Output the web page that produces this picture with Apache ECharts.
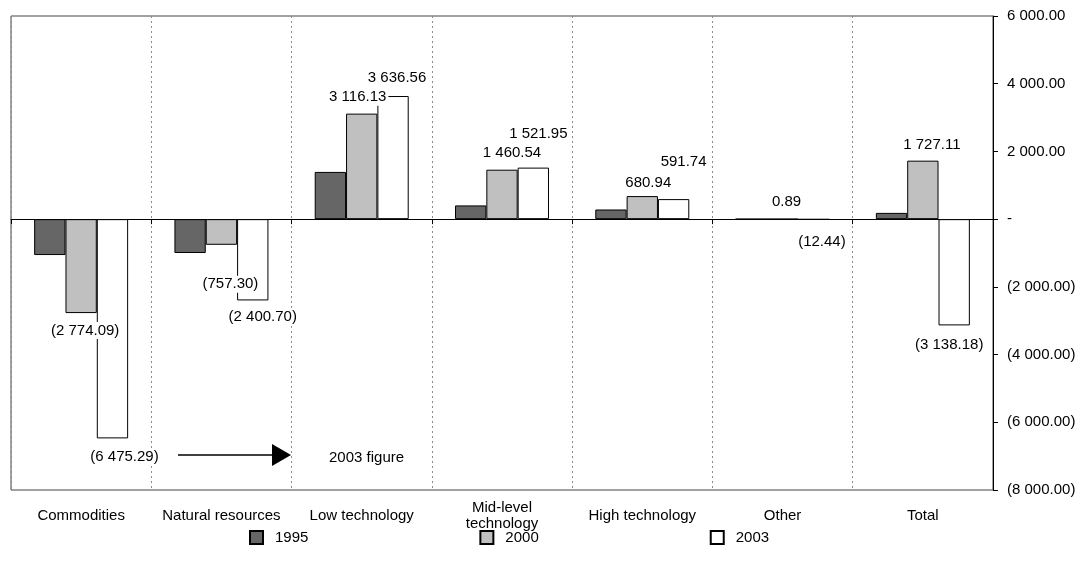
<!DOCTYPE html>
<html>
<head>
<meta charset="utf-8">
<script src="https://cdn.jsdelivr.net/npm/echarts@6/dist/echarts.min.js"></script>
<style>
  html, body { margin: 0; padding: 0; background: #fff; }
  #chart { width: 1081px; height: 573px; }
</style>
</head>
<body>
<div id="chart"></div>
<script>
// Trade balance by technology content, three years
const categories = ['Commodities', 'Natural resources', 'Low technology', 'Mid-level\ntechnology', 'High technology', 'Other', 'Total'];
const years = ['1995', '2000', '2003'];
const values1995 = [-1060, -1000, 1395, 405, 285, 1, 185];
const values2000 = [-2774.09, -757.30, 3116.13, 1460.54, 680.94, 0.89, 1727.11];
const values2003 = [-6475.29, -2400.70, 3636.56, 1521.95, 591.74, -12.44, -3138.18];
const yTicks = { min: -8000, max: 6000, step: 2000 };

const FONT = '"Liberation Sans", Arial, Helvetica, sans-serif';

// Number format: space thousands separator, two decimals, negatives in brackets, zero as a dash
function fmt(v) {
  if (v === 0) return '-';
  const parts = Math.abs(v).toFixed(2).split('.');
  const t = parts[0].replace(/\B(?=(\d{3})+(?!\d))/g, ' ') + '.' + parts[1];
  return v < 0 ? '(' + t + ')' : t;
}

// Hand placement of the value labels (x, y nudges in px)
const labelNudge2000 = [[4, 4], [9, 26], [-4, -3], [10, -3], [6, 0], [4, -3], [9, -2]];
const labelNudge2003 = [[12, 5], [10, 3], [4, -5], [5, -20], [10, -24], [8, 9], [-5, 6]];

function labelled(values, nudges) {
  return values.map((v, i) => ({
    value: v,
    label: {
      show: true,
      position: v < 0 ? 'bottom' : 'top',
      offset: nudges[i],
      formatter: p => fmt(p.value)
    }
  }));
}

const colors = ['#666666', '#c0c0c0', '#ffffff'];

const chart = echarts.init(document.getElementById('chart'), null, { renderer: 'canvas' });

const labelStyle = {
  fontFamily: FONT,
  fontSize: 15,
  color: '#000',
  backgroundColor: '#fff',
  padding: [1, 2]
};

const barBase = {
  type: 'bar',
  xAxisIndex: 0,
  yAxisIndex: 0,
  barGap: '0%',
  barCategoryGap: '33%',
  emphasis: { disabled: true },
  animation: false
};

chart.setOption({
  animation: false,
  textStyle: { fontFamily: FONT },
  grid: {
    left: 11, right: 88, top: 16, bottom: 83,
    show: true, borderColor: '#444', borderWidth: 1, backgroundColor: '#fff'
  },
  legend: {
    data: years,
    left: 244,
    top: 525,
    icon: 'rect',
    itemWidth: 13,
    itemHeight: 13,
    itemGap: 171,
    selectedMode: false,
    textStyle: { fontFamily: FONT, fontSize: 15, color: '#000', padding: [0, 0, 0, 7] }
  },
  xAxis: [
    {
      type: 'category',
      data: categories,
      position: 'bottom',
      axisLine: { show: false, onZero: false },
      axisTick: { show: false },
      splitLine: { show: true, lineStyle: { color: '#8a8a8a', type: [2, 3], width: 1 } },
      axisLabel: {
        interval: 0, margin: 26, verticalAlign: 'middle',
        fontFamily: FONT, fontSize: 15, color: '#000', lineHeight: 16
      }
    },
    {
      type: 'category',
      data: categories,
      position: 'bottom',
      axisLine: { show: true, onZero: true, lineStyle: { color: '#000', width: 1 } },
      axisTick: { show: true, length: 5, lineStyle: { color: '#000' } },
      axisLabel: { show: false },
      splitLine: { show: false }
    }
  ],
  yAxis: {
    type: 'value',
    position: 'right',
    min: yTicks.min,
    max: yTicks.max,
    interval: yTicks.step,
    axisLine: { show: true, lineStyle: { color: '#000', width: 1 } },
    axisTick: { show: true, length: 5, lineStyle: { color: '#000' } },
    splitLine: { show: false },
    axisLabel: {
      margin: 14, fontFamily: FONT, fontSize: 15, color: '#000', align: 'left',
      formatter: v => fmt(v)
    }
  },
  series: [
    Object.assign({}, barBase, { name: years[0], data: values1995, itemStyle: { color: colors[0], borderColor: '#000', borderWidth: 1 } }),
    Object.assign({}, barBase, { name: years[1], data: labelled(values2000, labelNudge2000), itemStyle: { color: colors[1], borderColor: '#000', borderWidth: 1 }, label: labelStyle }),
    Object.assign({}, barBase, { name: years[2], data: labelled(values2003, labelNudge2003), itemStyle: { color: colors[2], borderColor: '#000', borderWidth: 1 }, label: labelStyle })
  ],
  graphic: [
    // arrow pointing from the commodities 2003 value to its note
    { type: 'line', shape: { x1: 178, y1: 455, x2: 275, y2: 455 }, style: { stroke: '#000', lineWidth: 1.5 }, z: 100 },
    { type: 'polygon', shape: { points: [[272, 444], [291, 455], [272, 466]] }, style: { fill: '#000' }, z: 100 },
    { type: 'text', left: 329, top: 450, style: { text: '2003 figure', font: '15px ' + FONT, fill: '#000' }, z: 100 }
  ]
});
</script>
</body>
</html>
